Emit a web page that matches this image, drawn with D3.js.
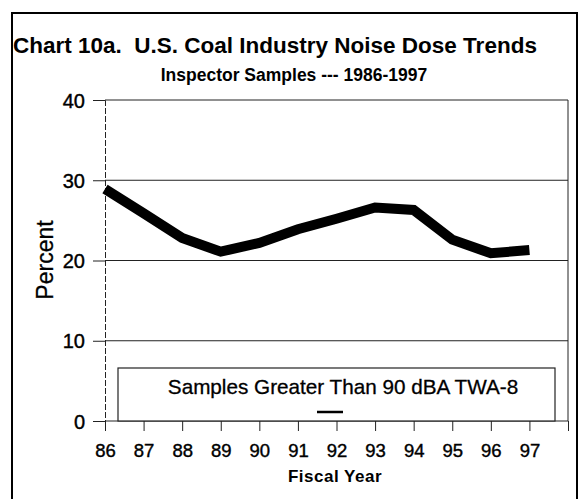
<!DOCTYPE html>
<html><head><meta charset="utf-8">
<script src="https://cdn.jsdelivr.net/npm/d3@7"></script>
<style>body{margin:0;background:#fff}svg{display:block}text{font-family:"Liberation Sans",Arial,sans-serif;fill:#000}</style>
</head><body><svg id="c" width="579" height="499"></svg>
<script>
const years = ["86","87","88","89","90","91","92","93","94","95","96","97"];
const values = [28.9, 25.9, 22.8, 21.1, 22.2, 23.9, 25.2, 26.6, 26.3, 22.6, 20.9, 21.3];
const yTicks = [0, 10, 20, 30, 40];
const title = "Chart 10a.  U.S. Coal Industry Noise Dose Trends";
const subtitle = "Inspector Samples --- 1986-1997";
const legendLabel = "Samples Greater Than 90 dBA TWA-8";

const svg = d3.select("#c");
const L = 105, R = 568, T = 100, B = 421;
const xDomain = years.concat(["98"]);
const x = d3.scalePoint().domain(xDomain).range([L, R]);
const y = d3.scaleLinear().domain([0, 40]).range([B, T]);

// outer frame
svg.append("path").attr("d", `M12,499 V13 H577 V499`).attr("fill","none").attr("stroke","#000").attr("stroke-width",2);

svg.append("text").attr("x",13).attr("y",53).attr("font-size",22.5).attr("font-weight","bold").attr("xml:space","preserve").text(title);
svg.append("text").attr("x",294).attr("y",81).attr("text-anchor","middle").attr("font-size",17.5).attr("font-weight","bold").text(subtitle);

// gridlines
svg.append("g").selectAll("line").data(yTicks).join("line")
  .attr("x1",L).attr("x2",R).attr("y1",d=>y(d)).attr("y2",d=>y(d))
  .attr("stroke","#222").attr("stroke-width",1);
// right border
svg.append("line").attr("x1",R).attr("x2",R).attr("y1",T).attr("y2",B).attr("stroke","#222");

// y axis
const yAxis = svg.append("g").attr("transform",`translate(${L},0)`)
  .call(d3.axisLeft(y).tickValues(yTicks).tickSize(12).tickPadding(8));
yAxis.select(".domain").attr("stroke","#222").attr("stroke-dasharray","6,2");
yAxis.selectAll("text").attr("font-size",20).attr("dy","0.35em").attr("stroke","#000").attr("stroke-width",0.4);
yAxis.selectAll("line").attr("stroke","#222");

// x axis
const xAxis = svg.append("g").attr("transform",`translate(0,${B})`)
  .call(d3.axisBottom(x).tickValues(xDomain).tickSize(10).tickPadding(13).tickFormat(d => years.includes(d) ? d : ""));
xAxis.select(".domain").remove();
xAxis.selectAll("text").attr("font-size",18.5).attr("stroke","#000").attr("stroke-width",0.4);
xAxis.selectAll("line").attr("stroke","#222");

svg.append("text").attr("x",335).attr("y",482).attr("text-anchor","middle").attr("font-size",17).attr("font-weight","bold").attr("letter-spacing",0.5).text("Fiscal Year");
svg.append("text").attr("transform","translate(53,260) rotate(-90)").attr("text-anchor","middle").attr("font-size",23).attr("stroke","#000").attr("stroke-width",0.3).text("Percent");

// legend
svg.append("rect").attr("x",118).attr("y",368).attr("width",437).attr("height",B-368)
  .attr("fill","#fff").attr("stroke","#222").attr("stroke-width",1.2);
svg.append("text").attr("x",343).attr("y",394).attr("text-anchor","middle").attr("font-size",20.7).attr("stroke","#000").attr("stroke-width",0.3).text(legendLabel);
svg.append("line").attr("x1",317).attr("x2",343).attr("y1",412).attr("y2",412).attr("stroke","#000").attr("stroke-width",2.5);

// data line
const line = d3.line().x((d,i)=>x(years[i])).y(d=>y(d));
svg.append("path").datum(values).attr("d",line).attr("fill","none")
  .attr("stroke","#000").attr("stroke-width",10).attr("stroke-linejoin","miter");
</script></body></html>
